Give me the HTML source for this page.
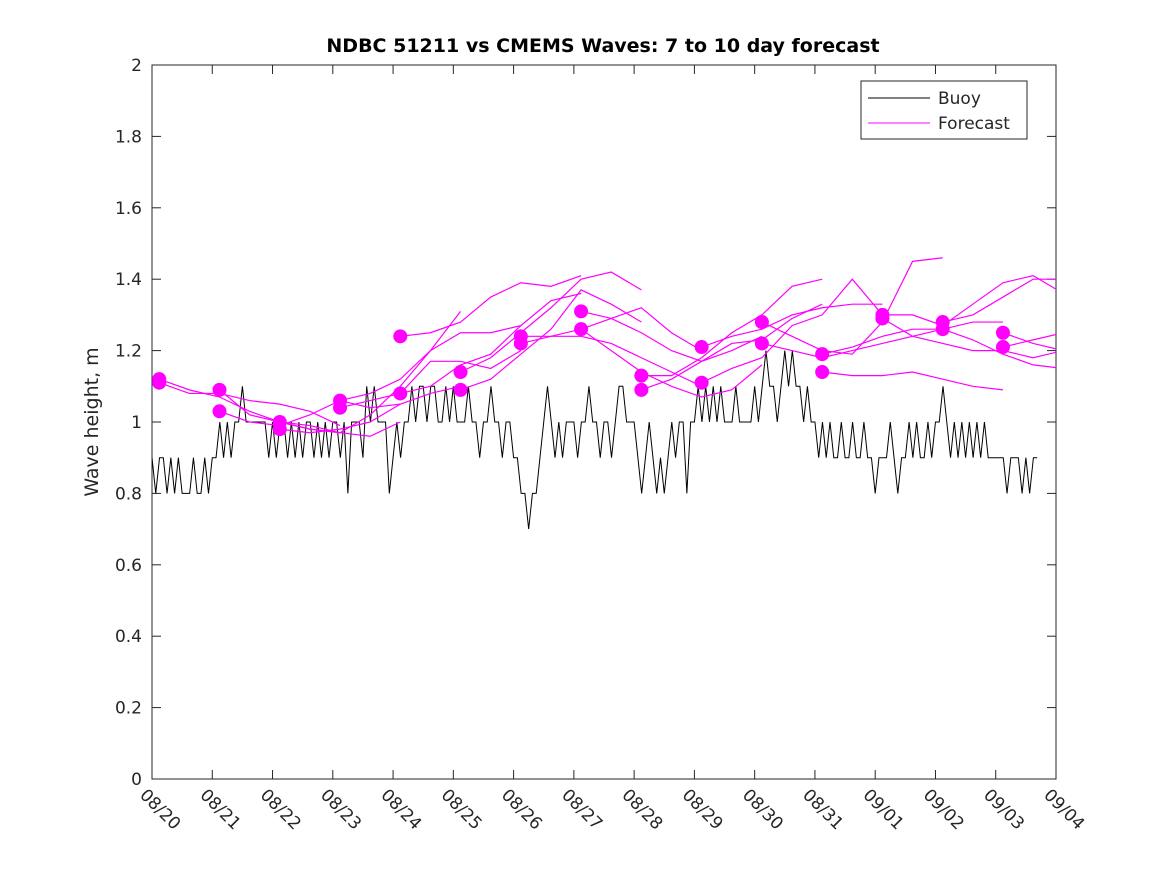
<!DOCTYPE html>
<html><head><meta charset="utf-8"><style>
body{margin:0;background:#fff;}
svg{display:block;font-family:"DejaVu Sans","Liberation Sans",sans-serif;}
</style></head><body>
<svg id="chart" width="1167" height="875">
<rect width="1167" height="875" fill="#fff"/>
<text x="603" y="52" text-anchor="middle" font-size="19" font-weight="bold" fill="#000">NDBC 51211 vs CMEMS Waves: 7 to 10 day forecast</text>
<text transform="translate(98,422) rotate(-90)" text-anchor="middle" font-size="19" fill="#262626">Wave height, m</text>
<defs><clipPath id="pc"><rect x="152" y="65" width="904" height="714"/></clipPath></defs>
<g id="axes"></g>
<g id="marks" clip-path="url(#pc)"></g>
<g id="legend">
<rect x="861" y="81" width="166" height="58" fill="#fff" stroke="#262626" stroke-width="1"/>
<line x1="868" y1="98" x2="930" y2="98" stroke="#000" stroke-width="1"/>
<text x="938" y="104" font-size="17" fill="#262626">Buoy</text>
<line x1="868" y1="123" x2="930" y2="123" stroke="#ff00ff" stroke-width="1"/>
<text x="938" y="129" font-size="17" fill="#262626">Forecast</text>
</g>
</svg>
<script>
const xTickLabels=["08/20","08/21","08/22","08/23","08/24","08/25","08/26","08/27","08/28","08/29","08/30","08/31","09/01","09/02","09/03","09/04"];
const yTickValues=[0,0.2,0.4,0.6,0.8,1,1.2,1.4,1.6,1.8,2];
const yTickLabels=["0","0.2","0.4","0.6","0.8","1","1.2","1.4","1.6","1.8","2"];
const buoyStep=0.0625;
const buoyValues=[
0.9,0.8,0.9,0.9,0.8,0.9,0.8,0.9,0.8,0.8,0.8,0.9,0.8,0.8,0.9,0.8,
0.9,0.9,1.0,0.9,1.0,0.9,1.0,1.0,1.1,1.0,1.0,1.0,1.0,1.0,1.0,0.9,
1.0,0.9,1.0,1.0,0.9,1.0,0.9,1.0,0.9,1.0,1.0,0.9,1.0,0.9,1.0,0.9,
1.0,1.0,0.9,1.0,0.8,1.0,1.0,1.0,0.9,1.1,1.0,1.1,1.0,1.0,1.0,0.8,
0.9,1.0,0.9,1.0,1.0,1.1,1.0,1.1,1.1,1.0,1.1,1.1,1.0,1.0,1.1,1.0,
1.1,1.0,1.0,1.0,1.1,1.0,1.0,0.9,1.0,1.0,1.1,1.0,1.0,0.9,1.0,1.0,
0.9,0.9,0.8,0.8,0.7,0.8,0.8,0.9,1.0,1.1,1.0,0.9,1.0,0.9,1.0,1.0,
1.0,0.9,1.0,1.0,1.1,1.0,1.0,0.9,1.0,1.0,0.9,1.0,1.1,1.1,1.0,1.0,
1.0,0.9,0.8,0.9,1.0,0.9,0.8,0.9,0.8,0.9,1.0,0.9,1.0,1.0,0.8,1.0,
1.0,1.1,1.0,1.1,1.0,1.1,1.0,1.1,1.0,1.0,1.0,1.1,1.0,1.0,1.0,1.0,
1.1,1.0,1.1,1.2,1.1,1.1,1.0,1.1,1.2,1.1,1.2,1.1,1.1,1.0,1.1,1.0,
1.0,0.9,1.0,0.9,1.0,0.9,0.9,1.0,0.9,0.9,1.0,0.9,0.9,1.0,0.9,0.9,
0.8,0.9,0.9,0.9,1.0,0.9,0.8,0.9,0.9,1.0,0.9,1.0,0.9,0.9,1.0,0.9,
1.0,1.0,1.1,1.0,0.9,1.0,0.9,1.0,0.9,1.0,0.9,1.0,0.9,1.0,0.9,0.9,
0.9,0.9,0.9,0.8,0.9,0.9,0.9,0.8,0.9,0.8,0.9,0.9];
const forecastStep=0.5;
const forecastStarts=[0.12,0.12,1.12,1.12,2.12,2.12,3.12,3.12,4.12,4.12,5.12,5.12,6.12,6.12,7.12,7.12,8.12,8.12,9.12,9.12,10.12,10.12,11.12,11.12,12.12,12.12,13.12,13.12,14.12,14.12];
const forecastValues=[
[1.12,1.09,1.07,1.03,1.00,0.98,0.97],
[1.11,1.08,1.08,1.06,1.05,1.03,0.99],
[1.09,1.02,1.00,0.99,0.97,0.96,1.00],
[1.03,1.00,0.99,1.02,1.06,1.04,1.05],
[1.00,0.98,0.97,1.02,1.10,1.20,1.31],
[0.98,0.97,0.98,1.00,1.05,1.08,1.10],
[1.06,1.08,1.12,1.20,1.25,1.25,1.27],
[1.04,1.06,1.08,1.17,1.17,1.15,1.20],
[1.24,1.25,1.28,1.35,1.39,1.38,1.41],
[1.08,1.10,1.16,1.19,1.27,1.34,1.36],
[1.14,1.18,1.25,1.32,1.40,1.42,1.37],
[1.09,1.12,1.19,1.26,1.37,1.33,1.28],
[1.24,1.24,1.26,1.29,1.32,1.25,1.20],
[1.22,1.24,1.24,1.22,1.18,1.14,1.10],
[1.31,1.29,1.25,1.20,1.17,1.20,1.24],
[1.26,1.20,1.14,1.10,1.07,1.09,1.16],
[1.13,1.13,1.18,1.25,1.30,1.38,1.40],
[1.09,1.12,1.17,1.22,1.23,1.29,1.33],
[1.21,1.24,1.26,1.30,1.32,1.33,1.33],
[1.11,1.15,1.18,1.27,1.30,1.40,1.30],
[1.28,1.24,1.20,1.19,1.28,1.45,1.46],
[1.22,1.20,1.18,1.20,1.22,1.24,1.26],
[1.19,1.21,1.24,1.26,1.26,1.28,1.28],
[1.14,1.13,1.13,1.14,1.12,1.10,1.09],
[1.30,1.30,1.27,1.33,1.39,1.41,1.36],
[1.29,1.24,1.22,1.20,1.20,1.18,1.20],
[1.28,1.30,1.35,1.40,1.40,1.33,1.30],
[1.26,1.23,1.19,1.16,1.15,1.21,1.33],
[1.25,1.22,1.20,1.46,1.44,1.40,1.40],
[1.21,1.23,1.25,1.30,1.34,1.34,1.34]];

const NS="http://www.w3.org/2000/svg";
const X0=152,X1=1056,Y0=779,Y1=65;
function xs(d){return X0+(X1-X0)*d/15;}
function ys(v){return Y0-(Y0-Y1)*v/2;}
function mk(t,a,p){const e=document.createElementNS(NS,t);for(const k in a)e.setAttribute(k,a[k]);p.appendChild(e);return e;}
const axes=document.getElementById('axes'),marks=document.getElementById('marks');
const box=mk('rect',{x:X0,y:Y1,width:X1-X0,height:Y0-Y1,fill:'none',stroke:'#262626','stroke-width':1},axes);


yTickValues.forEach((v,i)=>{const y=ys(v);
 mk('line',{x1:X0,y1:y,x2:X0+9,y2:y,stroke:'#262626'},axes);
 mk('line',{x1:X1,y1:y,x2:X1-9,y2:y,stroke:'#262626'},axes);
 const t=mk('text',{x:X0-10,y:y+6,'text-anchor':'end','font-size':17,fill:'#262626'},axes);t.textContent=yTickLabels[i];
 
 });
xTickLabels.forEach((l,i)=>{const x=xs(i);
 mk('line',{x1:x,y1:Y0,x2:x,y2:Y0-9,stroke:'#262626'},axes);
 mk('line',{x1:x,y1:Y1,x2:x,y2:Y1+9,stroke:'#262626'},axes);
 const t=mk('text',{transform:`translate(${x-13},${Y0+17}) rotate(45)`,'font-size':17,fill:'#262626'},axes);t.textContent=l;
 
 });
const bp=buoyValues.map((v,i)=>xs(i*buoyStep)+','+ys(v)).join(' ');
const bl=mk('polyline',{points:bp,fill:'none',stroke:'#000','stroke-width':1},marks);


forecastValues.forEach((vals,k)=>{const s=forecastStarts[k];
 const p=vals.map((v,i)=>xs(s+i*forecastStep)+','+ys(v)).join(' ');
 const l=mk('polyline',{points:p,fill:'none',stroke:'#ff00ff','stroke-width':1.2},marks);
 
 
 const c=mk('circle',{cx:xs(s),cy:ys(vals[0]),r:7,fill:'#ff00ff'},marks);
 
 });
</script>
</body></html>
